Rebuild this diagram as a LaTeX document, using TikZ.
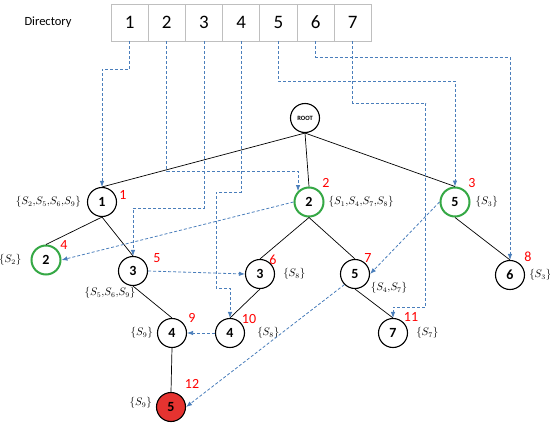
\documentclass[tikz,border=0pt]{standalone}
\usepackage[no-math]{fontspec}
\setmainfont{Carlito}
\usetikzlibrary{positioning,arrows.meta}
\definecolor{linkblue}{HTML}{4A7EBB}
\definecolor{leafgreen}{HTML}{35A845}
\definecolor{hitred}{HTML}{E53330}
\definecolor{cellgray}{HTML}{BFBFBF}

\begin{document}
\begin{tikzpicture}[
  x=1pt, y=-1pt,
  cell/.style={rectangle, draw=cellgray, fill=white, line width=0.8pt, minimum width=37.2pt, minimum height=37pt, outer sep=0pt, font=\fontsize{19}{20}\selectfont},
  vertex/.style={circle, draw=black, fill=white, line width=1.1pt, minimum size=29pt, inner sep=0pt, font=\fontsize{14}{14}\selectfont\bfseries},
  hit/.style={vertex, draw=leafgreen, line width=2pt},
  found/.style={vertex, fill=hitred},
  rank/.style={text=red, inner sep=0pt, font=\fontsize{14}{14}\selectfont},
  sset/.style={inner sep=0pt, font=\fontsize{10.5}{12}\selectfont},
  edge/.style={draw=black, line width=0.7pt},
  link/.style={->, >={Latex[length=6pt,width=4.5pt]}, dash pattern=on 3pt off 2pt, line width=0.8pt, draw=linkblue}
]
\useasboundingbox (0,0) rectangle (550,426);

% directory
\node[font=\fontsize{12.5}{14}\selectfont] (dirlabel) at (48,22) {Directory};
\foreach \i in {1,...,7}
  \node[cell] (d\i) at ({92.4+37.2*\i},22.5) {\i};

% tree
\node[vertex, font=\fontsize{6.5}{7}\selectfont\bfseries] (root) at (305,118) {ROOT};
\node[vertex] (n1) at (102,202) {1};
\node[hit] (n2) at (309,202) {2};
\node[hit] (n3) at (455,202) {5};
\node[hit] (n4) at (46,260) {2};
\node[vertex] (n5) at (133,271) {3};
\node[vertex] (n6) at (260,274) {3};
\node[vertex] (n7) at (355,274) {5};
\node[vertex] (n8) at (510,275) {6};
\node[vertex] (n9) at (172,333) {4};
\node[vertex] (n10) at (230,333) {4};
\node[vertex] (n11) at (393,333) {7};
\node[found] (n12) at (171,407) {5};

\foreach \a/\b in {root/n1, root/n2, root/n3, n1/n4, n1/n5, n2/n6, n2/n7, n3/n8, n5/n9, n6/n10, n7/n11, n9/n12}
  \draw[edge] (\a.south) -- (\b.north);

% order numbers
\foreach \k/\dx/\dy in {1/21/-7, 2/17/-19, 3/17/-19, 4/18/-15, 5/24/-13, 6/13/-14, 7/13/-16, 8/18/-18, 9/20/-15, 10/19/-14, 11/18/-16, 12/21/-23}
  \node[rank] (r\k) at ([shift={(\dx,\dy)}]n\k) {\k};

% sets
\node[sset, left=6pt of n1] (s1) {$\{S_2{,}S_5{,}S_6{,}S_9\}$};
\node[sset, right=4pt of n2] (s2) {$\{S_1{,}S_4{,}S_7{,}S_8\}$};
\node[sset, right=5pt of n3] (s3) {$\{S_3\}$};
\node[sset, left=9pt of n4] (s4) {$\{S_2\}$};
\node[sset] (s5) at ([shift={(-23,22)}]n5) {$\{S_5{,}S_6{,}S_9\}$};
\node[sset, right=8pt of n6] (s6) {$\{S_8\}$};
\node[sset] (s7) at ([shift={(34,14)}]n7) {$\{S_4{,}S_7\}$};
\node[sset, right=4pt of n8] (s8) {$\{S_3\}$};
\node[sset, left=4pt of n9] (s9) {$\{S_9\}$};
\node[sset, right=12pt of n10] (s10) {$\{S_8\}$};
\node[sset, right=8pt of n11] (s11) {$\{S_7\}$};
\node[sset, left=4pt of n12, yshift=4pt] (s12) {$\{S_9\}$};

% pointers
\draw[link] (d1.south) -- ++(0,28) -| (n1.north);
\draw[link] (d2.south) -- ++(0,130) -| (n2.north west);
\draw[link] (d3.south) -- ++(0,167) -| (n5.north);
\draw[link] (d4.south) -- ++(0,151) -- ++(-25,0) -- ++(0,96) -| (n10.north);
\draw[link] (d5.south) -- ++(0,40) -| (n3.north);
\draw[link] (d6.south) -- ++(0,16) -| (n8.north);
\draw[link] (d7.south) -- ++(0,62) -- ++(73,0) -- ++(0,204) -| (n11.north);
\draw[link] (n2.west) -- (n4.east);
\draw[link] (n5.east) -- (n6.west);
\draw[link] (n10.west) -- (n9.east);
\draw[link] (n3.west) -- (n7.east);
\draw[link] (n7.south west) -- (n12.east);
\end{tikzpicture}
\end{document}
